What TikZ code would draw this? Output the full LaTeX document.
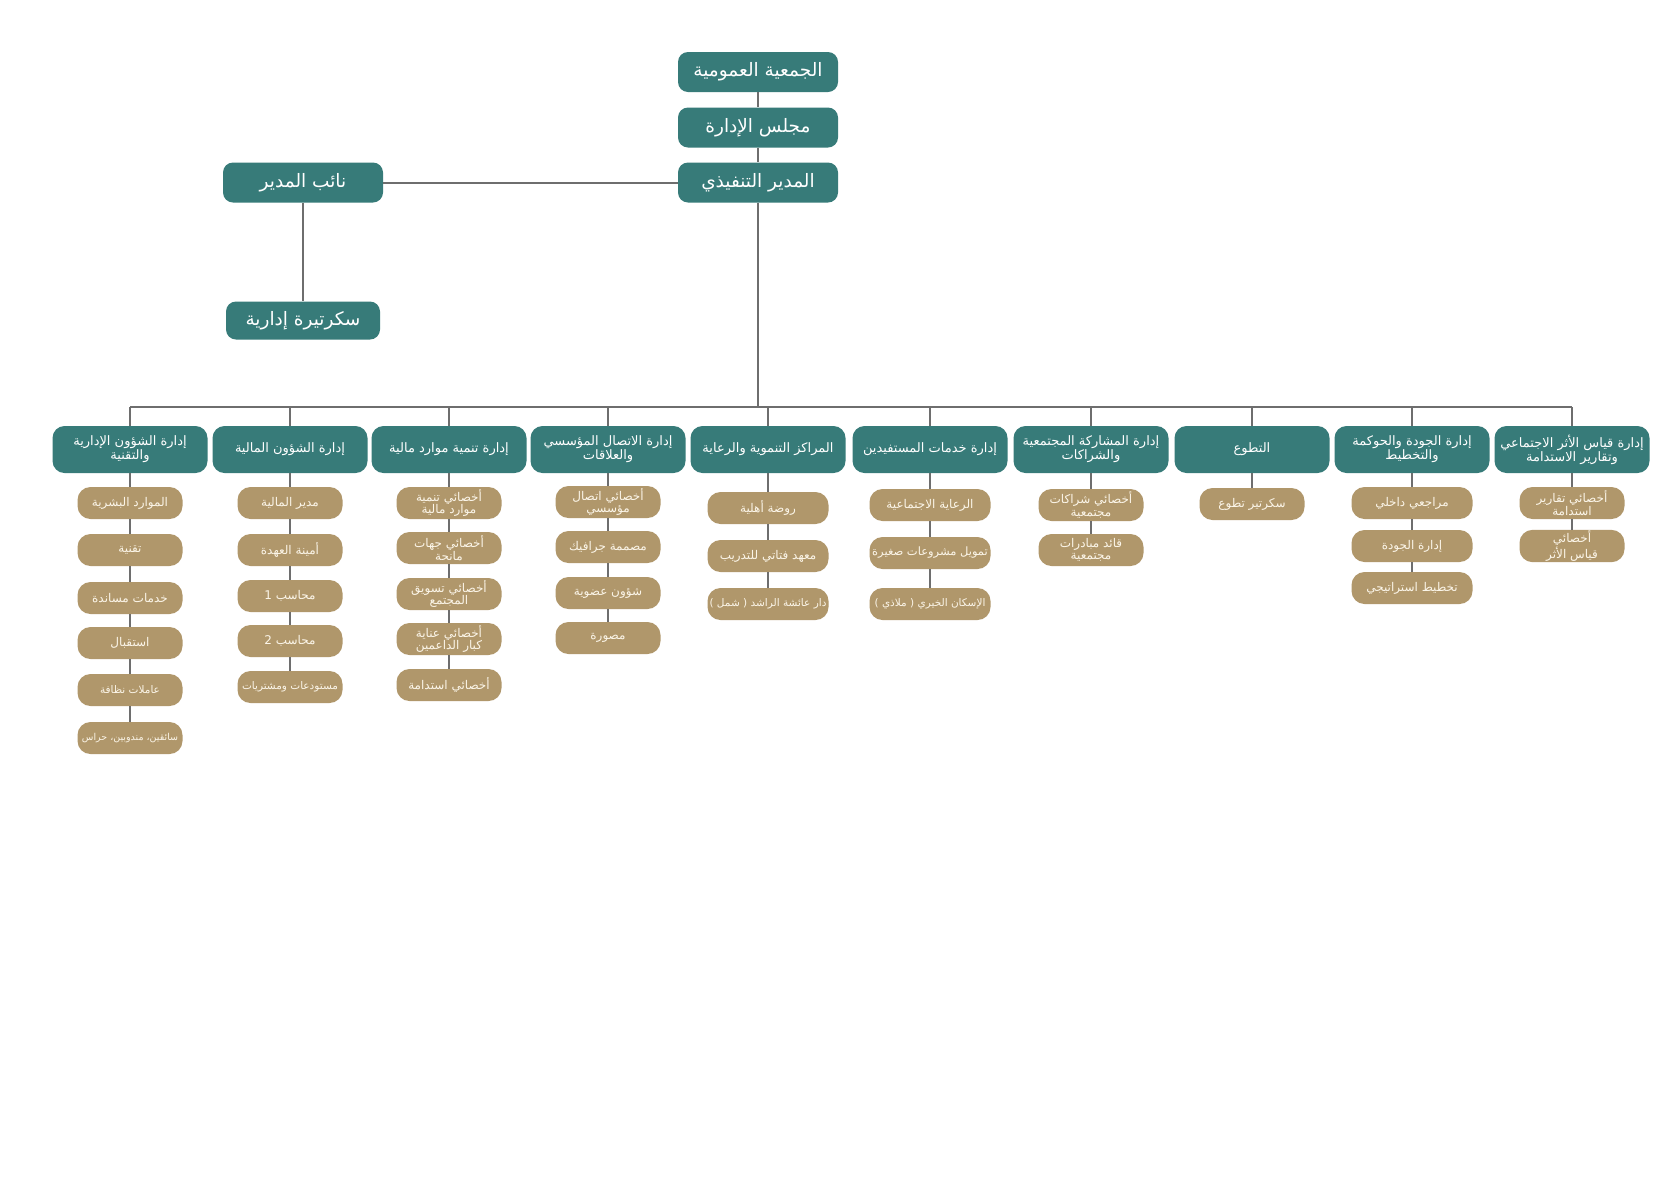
\documentclass[tikz,border=0pt]{standalone}
\usepackage{fontspec}
\usepackage{xcolor}
\usepackage{tikz}
\TeXXeTstate=1
\newfontfamily\arabicfont[Script=Arabic]{DejaVu Sans}
\definecolor{orgteal}{HTML}{377B79}
\definecolor{orgtan}{HTML}{B0976B}
\definecolor{orgline}{HTML}{6E6E6E}
\definecolor{orgcream}{HTML}{FBF5E8}
\newcommand{\artxt}[1]{\beginR #1\endR}
\tikzset{
  headbox/.style={fill=orgteal, text=white, rounded corners=10pt, minimum width=160pt,
    minimum height=40pt, inner sep=2pt, font=\arabicfont\fontsize{18.5}{21}\selectfont},
  deptbox/.style={fill=orgteal, text=white, rounded corners=12pt, minimum width=155pt,
    minimum height=47pt, inner sep=1pt, align=center, font=\arabicfont\fontsize{13}{14}\selectfont},
  rolebox/.style={fill=orgtan, text=orgcream, rounded corners=13pt, minimum width=105pt,
    minimum height=32pt, inner sep=1pt, align=center, font=\arabicfont\fontsize{12}{12.5}\selectfont},
  widebox/.style={rolebox, minimum width=121pt},
  rolesmall/.style={font=\arabicfont\fontsize{10.5}{12}\selectfont},
  roletiny/.style={font=\arabicfont\fontsize{9.5}{11}\selectfont},
  trunk/.style={draw=orgline, line width=2pt},
  twig/.style={draw=orgline, line width=1.5pt},
}
\begin{document}
\begin{tikzpicture}[x=1pt,y=-1pt]
  \fill[white] (0,0) rectangle (1668,1200);
  \useasboundingbox (0,0) rectangle (1668,1200);
  % top of the chart
  \node[headbox] (gm) at (758,72) {\artxt{الجمعية العمومية}};
  \node[headbox] (board) at (758,127.5) {\artxt{مجلس الإدارة}};
  \node[headbox] (exec) at (758,182.5) {\artxt{المدير التنفيذي}};
  \node[headbox] (deputy) at (303,182.5) {\artxt{نائب المدير}};
  \node[headbox, minimum width=154pt, minimum height=38pt] (sec) at (303,320.5) {\artxt{سكرتيرة إدارية}};
  \coordinate (bus) at (758,407);
  % departments
  \node[deptbox] (d1) at (130,449.5) {\artxt{إدارة الشؤون الإدارية}\\\artxt{والتقنية}};
  \node[deptbox] (d2) at (290,449.5) {\artxt{إدارة الشؤون المالية}};
  \node[deptbox] (d3) at (449,449.5) {\artxt{إدارة تنمية موارد مالية}};
  \node[deptbox] (d4) at (608,449.5) {\artxt{إدارة الاتصال المؤسسي}\\\artxt{والعلاقات}};
  \node[deptbox] (d5) at (768,449.5) {\artxt{المراكز التنموية والرعاية}};
  \node[deptbox] (d6) at (930,449.5) {\artxt{إدارة خدمات المستفيدين}};
  \node[deptbox] (d7) at (1091,449.5) {\artxt{إدارة المشاركة المجتمعية}\\\artxt{والشراكات}};
  \node[deptbox] (d8) at (1252,449.5) {\artxt{التطوع}};
  \node[deptbox] (d9) at (1412,449.5) {\artxt{إدارة الجودة والحوكمة}\\\artxt{والتخطيط}};
  \node[deptbox] (d10) at (1572,449.5) {\artxt{إدارة قياس الأثر الاجتماعي}\\\artxt{وتقارير الاستدامة}};
  % column 1
  \node[rolebox] (a1) at (130,503) {\artxt{الموارد البشرية}};
  \node[rolebox] (a2) at (130,550) {\artxt{تقنية}};
  \node[rolebox] (a3) at (130,598) {\artxt{خدمات مساندة}};
  \node[rolebox] (a4) at (130,643) {\artxt{استقبال}};
  \node[rolebox, rolesmall] (a5) at (130,690) {\artxt{عاملات نظافة}};
  \node[rolebox, roletiny] (a6) at (130,738) {\artxt{سائقين، مندوبين، حراس}};
  % column 2
  \node[rolebox] (b1) at (290,503) {\artxt{مدير المالية}};
  \node[rolebox] (b2) at (290,550) {\artxt{أمينة العهدة}};
  \node[rolebox] (b3) at (290,596) {\artxt{محاسب 1}};
  \node[rolebox] (b4) at (290,641) {\artxt{محاسب 2}};
  \node[rolebox, rolesmall] (b5) at (290,687) {\artxt{مستودعات ومشتريات}};
  % column 3
  \node[rolebox] (e1) at (449,503) {\artxt{أخصائي تنمية}\\\artxt{موارد مالية}};
  \node[rolebox] (e2) at (449,548) {\artxt{أخصائي جهات}\\\artxt{مانحة}};
  \node[rolebox] (e3) at (449,594) {\artxt{أخصائي تسويق}\\\artxt{المجتمع}};
  \node[rolebox] (e4) at (449,639) {\artxt{أخصائي عناية}\\\artxt{كبار الداعمين}};
  \node[rolebox] (e5) at (449,685) {\artxt{أخصائي استدامة}};
  % column 4
  \node[rolebox] (f1) at (608,502) {\artxt{أخصائي اتصال}\\\artxt{مؤسسي}};
  \node[rolebox] (f2) at (608,547) {\artxt{مصممة جرافيك}};
  \node[rolebox] (f3) at (608,593) {\artxt{شؤون عضوية}};
  \node[rolebox] (f4) at (608,638) {\artxt{مصورة}};
  % column 5
  \node[widebox] (g1) at (768,508) {\artxt{روضة أهلية}};
  \node[widebox] (g2) at (768,556) {\artxt{معهد فتاتي للتدريب}};
  \node[widebox, rolesmall] (g3) at (768,604) {\artxt{دار عائشة الراشد ( شمل )}};
  % column 6
  \node[widebox] (h1) at (930,505) {\artxt{الرعاية الاجتماعية}};
  \node[widebox, font=\arabicfont\fontsize{11.5}{12}\selectfont] (h2) at (930,553) {\artxt{تمويل مشروعات صغيرة}};
  \node[widebox, rolesmall] (h3) at (930,604) {\artxt{الإسكان الخيري ( ملاذي )}};
  % column 7
  \node[rolebox] (k1) at (1091,505) {\artxt{أخصائي شراكات}\\\artxt{مجتمعية}};
  \node[rolebox] (k2) at (1091,550) {\artxt{قائد مبادرات}\\\artxt{مجتمعية}};
  % column 8
  \node[rolebox] (m1) at (1252,504) {\artxt{سكرتير تطوع}};
  % column 9
  \node[widebox] (n1) at (1412,503) {\artxt{مراجعي داخلي}};
  \node[widebox] (n2) at (1412,546) {\artxt{إدارة الجودة}};
  \node[widebox] (n3) at (1412,588) {\artxt{تخطيط استراتيجي}};
  % column 10
  \node[rolebox] (p1) at (1572,503) {\artxt{أخصائي تقارير}\\\artxt{استدامة}};
  \node[rolebox] (p2) at (1572,546) {\artxt{أخصائي}\\\artxt{قياس الأثر}};
  % lines
  \draw[trunk] (gm) -- (board);
  \draw[trunk] (board) -- (exec);
  \draw[trunk] (exec) -- (deputy);
  \draw[trunk] (deputy) -- (sec);
  \draw[trunk] (exec) -- (bus);
  \draw[trunk] (d1 |- bus) -- (d10 |- bus);
  \draw[trunk] (d1 |- bus) -- (d1);
  \draw[trunk] (d2 |- bus) -- (d2);
  \draw[trunk] (d3 |- bus) -- (d3);
  \draw[trunk] (d4 |- bus) -- (d4);
  \draw[trunk] (d5 |- bus) -- (d5);
  \draw[trunk] (d6 |- bus) -- (d6);
  \draw[trunk] (d7 |- bus) -- (d7);
  \draw[trunk] (d8 |- bus) -- (d8);
  \draw[trunk] (d9 |- bus) -- (d9);
  \draw[trunk] (d10 |- bus) -- (d10);
  \draw[twig] (d1) -- (a1) -- (a2) -- (a3) -- (a4) -- (a5) -- (a6);
  \draw[twig] (d2) -- (b1) -- (b2) -- (b3) -- (b4) -- (b5);
  \draw[twig] (d3) -- (e1) -- (e2) -- (e3) -- (e4) -- (e5);
  \draw[twig] (d4) -- (f1) -- (f2) -- (f3) -- (f4);
  \draw[twig] (d5) -- (g1) -- (g2) -- (g3);
  \draw[twig] (d6) -- (h1) -- (h2) -- (h3);
  \draw[twig] (d7) -- (k1) -- (k2);
  \draw[twig] (d8) -- (m1);
  \draw[twig] (d9) -- (n1) -- (n2) -- (n3);
  \draw[twig] (d10) -- (p1) -- (p2);
\end{tikzpicture}
\end{document}
